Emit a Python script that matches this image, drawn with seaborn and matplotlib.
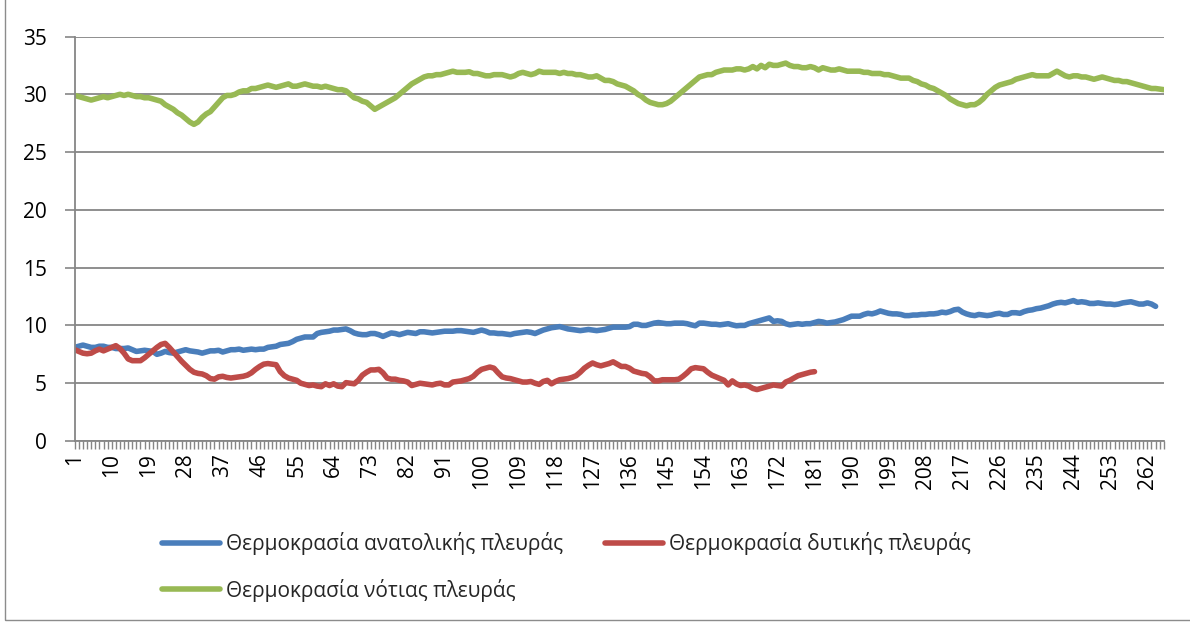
import matplotlib
matplotlib.use("Agg")
import matplotlib.pyplot as plt
from matplotlib.lines import Line2D
from matplotlib.patches import Rectangle
import numpy as np
import pandas as pd
import seaborn as sns

# Temperature readings per measurement index
temp_east = [
    8.1, 8.2, 8.3, 8.2, 8.1, 8.1, 8.2, 8.2, 8.1, 8.1,
    8.0, 8.0, 8.0, 8.05, 7.9, 7.75, 7.8, 7.85, 7.8, 7.75,
    7.5, 7.6, 7.75, 7.65, 7.6, 7.7, 7.8, 7.9, 7.8, 7.75,
    7.7, 7.6, 7.7, 7.8, 7.8, 7.85, 7.7, 7.8, 7.9, 7.9,
    7.95, 7.85, 7.9, 7.95, 7.9, 7.95, 7.95, 8.1, 8.15, 8.2,
    8.35, 8.4, 8.45, 8.6, 8.8, 8.9, 9.0, 9.0, 9.0, 9.3,
    9.4, 9.45, 9.5, 9.6, 9.6, 9.65, 9.7, 9.55, 9.35, 9.25,
    9.2, 9.2, 9.3, 9.3, 9.2, 9.05, 9.2, 9.35, 9.3, 9.2,
    9.3, 9.4, 9.35, 9.3, 9.45, 9.45, 9.4, 9.35, 9.4, 9.45,
    9.5, 9.5, 9.5, 9.55, 9.55, 9.5, 9.45, 9.4, 9.5, 9.6,
    9.5, 9.35, 9.35, 9.3, 9.3, 9.25, 9.2, 9.3, 9.35, 9.4,
    9.45, 9.4, 9.3, 9.45, 9.6, 9.7, 9.8, 9.85, 9.9, 9.8,
    9.7, 9.65, 9.6, 9.55, 9.6, 9.65, 9.6, 9.55, 9.6, 9.65,
    9.75, 9.85, 9.85, 9.85, 9.85, 9.9, 10.1, 10.1, 10.0, 10.0,
    10.1, 10.2, 10.25, 10.2, 10.15, 10.15, 10.2, 10.2, 10.2, 10.15,
    10.05, 9.97, 10.2, 10.2, 10.15, 10.1, 10.1, 10.05, 10.1, 10.15,
    10.05, 9.97, 10.0, 10.0, 10.15, 10.25, 10.35, 10.45, 10.55, 10.65,
    10.35, 10.4, 10.35, 10.15, 10.05, 10.1, 10.15, 10.1, 10.15, 10.15,
    10.25, 10.35, 10.3, 10.2, 10.25, 10.3, 10.4, 10.5, 10.65, 10.8,
    10.8, 10.8, 10.95, 11.05, 11.0, 11.1, 11.25, 11.15, 11.05, 11.0,
    11.0, 10.95, 10.85, 10.85, 10.9, 10.9, 10.95, 10.95, 11.0, 11.0,
    11.05, 11.15, 11.1, 11.2, 11.35, 11.4, 11.15, 11.0, 10.9, 10.85,
    10.95, 10.9, 10.85, 10.9, 11.0, 11.05, 10.95, 10.95, 11.1, 11.1,
    11.05, 11.2, 11.3, 11.35, 11.45, 11.5, 11.6, 11.7, 11.85, 11.95,
    12.0, 11.95, 12.05, 12.15, 12.0, 12.05, 12.0, 11.9, 11.9, 11.95,
    11.9, 11.85, 11.85, 11.8, 11.85, 11.95, 12.0, 12.05, 11.95, 11.85,
    11.85, 11.95, 11.85, 11.65,
]

temp_west = [
    7.9, 7.75, 7.6, 7.55, 7.6, 7.8, 7.95, 7.8, 7.95, 8.1,
    8.25, 8.0, 7.6, 7.1, 6.95, 6.95, 6.95, 7.2, 7.5, 7.8,
    8.1, 8.35, 8.45, 8.1, 7.7, 7.3, 6.9, 6.55, 6.2, 5.95,
    5.85, 5.8, 5.65, 5.4, 5.35, 5.55, 5.6, 5.5, 5.45, 5.5,
    5.55, 5.6, 5.7, 5.9, 6.2, 6.45, 6.65, 6.7, 6.65, 6.6,
    6.0, 5.65, 5.45, 5.35, 5.25, 5.0, 4.9, 4.8, 4.85, 4.75,
    4.7, 4.95, 4.8, 4.95, 4.75, 4.7, 5.05, 5.0, 4.95, 5.25,
    5.7, 5.95, 6.15, 6.15, 6.2, 5.9, 5.45, 5.35, 5.35, 5.25,
    5.2, 5.1, 4.8, 4.9, 5.0, 4.95, 4.9, 4.85, 4.95, 5.0,
    4.85, 4.85, 5.1, 5.15, 5.2, 5.3, 5.4, 5.6, 5.95, 6.2,
    6.3, 6.4, 6.3, 5.9, 5.55, 5.45, 5.4, 5.3, 5.2, 5.1,
    5.1, 5.15, 5.0, 4.9, 5.15, 5.25, 4.95, 5.15, 5.3, 5.35,
    5.4, 5.5, 5.65, 5.95, 6.3, 6.55, 6.75, 6.6, 6.5, 6.6,
    6.7, 6.85, 6.65, 6.45, 6.45, 6.3, 6.05, 5.95, 5.85, 5.8,
    5.55, 5.2, 5.2, 5.3, 5.3, 5.3, 5.3, 5.35, 5.6, 5.9,
    6.25, 6.35, 6.3, 6.25, 5.95, 5.7, 5.55, 5.4, 5.25, 4.85,
    5.2, 4.95, 4.8, 4.85, 4.75, 4.55, 4.45, 4.55, 4.65, 4.75,
    4.85, 4.8, 4.75, 5.1, 5.25, 5.45, 5.65, 5.75, 5.85, 5.95,
    6.0,
]

temp_south = [
    29.9, 29.8, 29.7, 29.6, 29.5, 29.6, 29.7, 29.8, 29.7, 29.8,
    29.9, 30.0, 29.9, 30.0, 29.9, 29.8, 29.8, 29.7, 29.7, 29.6,
    29.5, 29.4, 29.1, 28.9, 28.7, 28.4, 28.2, 27.9, 27.6, 27.4,
    27.6, 28.0, 28.3, 28.5, 28.9, 29.3, 29.7, 29.9, 29.9, 30.0,
    30.2, 30.3, 30.3, 30.5, 30.5, 30.6, 30.7, 30.8, 30.7, 30.6,
    30.7, 30.8, 30.9, 30.7, 30.7, 30.8, 30.9, 30.8, 30.7, 30.7,
    30.6, 30.7, 30.6, 30.5, 30.4, 30.4, 30.3, 30.0, 29.7, 29.6,
    29.4, 29.3, 29.0, 28.7, 28.9, 29.1, 29.3, 29.5, 29.7, 30.0,
    30.3, 30.6, 30.9, 31.1, 31.3, 31.5, 31.6, 31.6, 31.7, 31.7,
    31.8, 31.9, 32.0, 31.9, 31.9, 31.9, 31.95, 31.8, 31.8, 31.7,
    31.6, 31.6, 31.7, 31.7, 31.7, 31.6, 31.5, 31.6, 31.8, 31.9,
    31.8, 31.7, 31.8, 32.0, 31.9, 31.9, 31.9, 31.9, 31.8, 31.9,
    31.8, 31.8, 31.7, 31.7, 31.6, 31.5, 31.5, 31.6, 31.4, 31.2,
    31.2, 31.1, 30.9, 30.8, 30.7, 30.5, 30.3, 30.0, 29.8, 29.5,
    29.3, 29.2, 29.1, 29.1, 29.2, 29.4, 29.7, 30.0, 30.3, 30.6,
    30.9, 31.2, 31.5, 31.6, 31.7, 31.7, 31.9, 32.0, 32.1, 32.1,
    32.1, 32.2, 32.2, 32.1, 32.2, 32.4, 32.2, 32.5, 32.3, 32.6,
    32.5, 32.5, 32.6, 32.7, 32.5, 32.4, 32.4, 32.3, 32.3, 32.4,
    32.3, 32.1, 32.3, 32.2, 32.1, 32.1, 32.2, 32.1, 32.0, 32.0,
    32.0, 32.0, 31.9, 31.9, 31.8, 31.8, 31.8, 31.7, 31.7, 31.6,
    31.5, 31.4, 31.4, 31.4, 31.2, 31.1, 30.9, 30.8, 30.6, 30.5,
    30.3, 30.1, 29.9, 29.6, 29.4, 29.2, 29.1, 29.0, 29.1, 29.1,
    29.3, 29.6, 30.0, 30.3, 30.6, 30.8, 30.9, 31.0, 31.1, 31.3,
    31.4, 31.5, 31.6, 31.7, 31.6, 31.6, 31.6, 31.6, 31.8, 32.0,
    31.8, 31.6, 31.5, 31.6, 31.6, 31.5, 31.5, 31.4, 31.3, 31.4,
    31.5, 31.4, 31.3, 31.2, 31.2, 31.1, 31.1, 31.0, 30.9, 30.8,
    30.7, 30.6, 30.5, 30.5, 30.45, 30.4,
]

series_names = [
    "Θερμοκρασία ανατολικής πλευράς",
    "Θερμοκρασία δυτικής πλευράς",
    "Θερμοκρασία νότιας πλευράς",
]
series_colors = ["#4A7EBB", "#BE4B48", "#98B954"]

y_ticks = [0, 5, 10, 15, 20, 25, 30, 35]
x_tick_labels = list(range(1, 263, 9))

frames = []
for name, vals in zip(series_names, [temp_east, temp_west, temp_south]):
    frames.append(pd.DataFrame({"idx": np.arange(1, len(vals) + 1),
                                "temp": vals, "series": name}))
df = pd.concat(frames, ignore_index=True)

sns.set_theme(style="white")
plt.rcParams["font.family"] = ["Open Sans", "DejaVu Sans"]
FS = 15
LW = 4.0

fig = plt.figure(figsize=(11.9, 6.22), dpi=100)
ax = fig.add_axes([0.0628, 0.2910, 0.9152, 0.6503])

palette = dict(zip(series_names, series_colors))
sns.lineplot(data=df, x="idx", y="temp", hue="series", hue_order=series_names,
             palette=palette, linewidth=LW, ax=ax, legend=False,
             solid_capstyle="round", solid_joinstyle="round")

n_cat = len(temp_south)
ax.set_xlim(1, n_cat)
ax.set_ylim(0, 35)
ax.set_yticks(y_ticks)
ax.set_yticklabels([str(v) for v in y_ticks], fontsize=FS, color="black")
ax.set_xticks(x_tick_labels)
ax.set_xticklabels([str(v) for v in x_tick_labels], rotation=90,
                   fontsize=FS, color="black")
ax.set_xticks(np.arange(1, n_cat + 1), minor=True)
ax.set_xlabel("")
ax.set_ylabel("")

grid_c = "#868686"
ax.grid(axis="y", color=grid_c, linewidth=1.3)
ax.set_axisbelow(True)
for side in ["top", "right"]:
    ax.spines[side].set_visible(False)
for side in ["left", "bottom"]:
    ax.spines[side].set_color(grid_c)
    ax.spines[side].set_linewidth(1.3)

ax.tick_params(axis="y", which="major", direction="out", length=7,
               width=1.2, color=grid_c, left=True, pad=13)
ax.tick_params(axis="x", which="both", direction="out", length=6,
               width=1.0, color=grid_c, bottom=True, pad=3)

# Legend: two entries in the first row, one in the second
def handle(c):
    return Line2D([], [], color=c, linewidth=LW)

leg_kw = dict(frameon=False, fontsize=FS, handlelength=2.8,
              handletextpad=0.3, borderpad=0, borderaxespad=0,
              labelspacing=1.15, loc="upper left")
leg1 = fig.legend([handle(series_colors[0]), handle(series_colors[2])],
                  [series_names[0], series_names[2]],
                  bbox_to_anchor=(0.136, 0.145), **leg_kw)
leg2 = fig.legend([handle(series_colors[1])], [series_names[1]],
                  bbox_to_anchor=(0.508, 0.145), **leg_kw)

# Thin chart-area border
fig.patches.append(Rectangle((0.0042, 0.003), 1.2, 1.2, transform=fig.transFigure,
                             fill=False, edgecolor="#8c8c8c", linewidth=1.0))

fig.savefig("out.png", dpi=100)
